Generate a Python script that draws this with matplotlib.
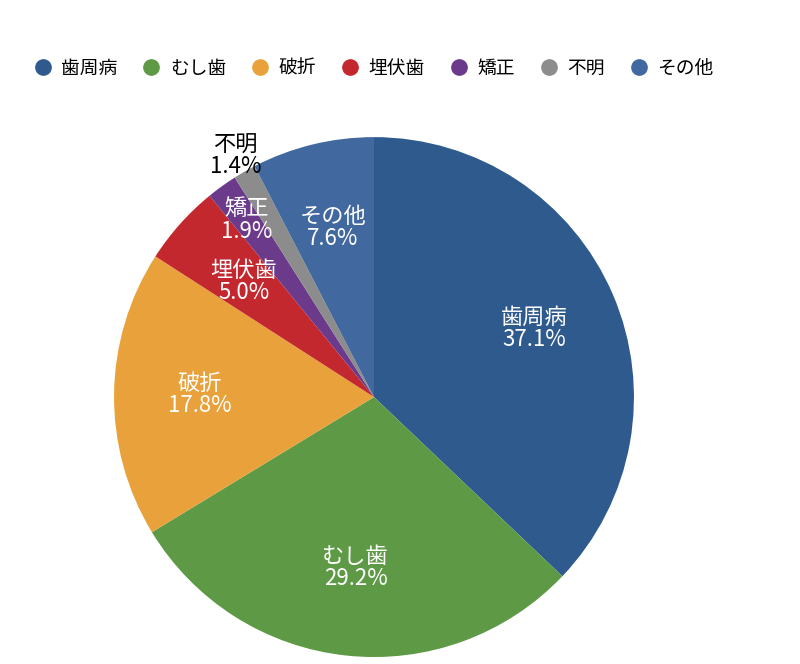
import numpy as np
import matplotlib.pyplot as plt
from matplotlib.lines import Line2D

plt.rcParams['font.family'] = ['Noto Sans CJK JP', 'DejaVu Sans']

labels = ['歯周病', 'むし歯', '破折', '埋伏歯', '矯正', '不明', 'その他']
values = [37.1, 29.2, 17.8, 5.0, 1.9, 1.4, 7.6]
colors = ['#2E5A8E', '#5E9A46', '#E9A23B', '#C4282F', '#6B3A8A', '#8C8C8C', '#41699F']
# how far out each label sits (fraction of radius)
label_dist = [0.67, 0.66, 0.67, 0.67, 0.84, 1.07, 0.67]
label_color = ['white', 'white', 'white', 'white', 'white', 'black', 'white']

fig = plt.figure(figsize=(8, 6.64), dpi=100)
ax = fig.add_axes([0.1425, 0.0105, 0.65, 0.783])

wedges, _ = ax.pie(values, colors=colors, startangle=90, counterclock=False,
                   wedgeprops=dict(linewidth=0))
ax.set_xlim(-1, 1)
ax.set_ylim(-1, 1)
ax.set_aspect('equal')

for w, lab, v, d, c in zip(wedges, labels, values, label_dist, label_color):
    ang = np.deg2rad((w.theta1 + w.theta2) / 2)
    ax.text(d * np.cos(ang), d * np.sin(ang), f'{lab}\n{v:.1f}%',
            ha='center', va='center', color=c, fontsize=16, linespacing=0.95,
            clip_on=False)

handles = [Line2D([], [], marker='o', linestyle='none', markersize=11,
                  markerfacecolor=c, markeredgecolor=c) for c in colors]
fig.legend(handles, labels, loc='center left', bbox_to_anchor=(0.018, 0.897),
           ncol=7, frameon=False, fontsize=13.5, handletextpad=0.4,
           columnspacing=1.2, handlelength=1.2)

fig.savefig('out.png', dpi=100)
